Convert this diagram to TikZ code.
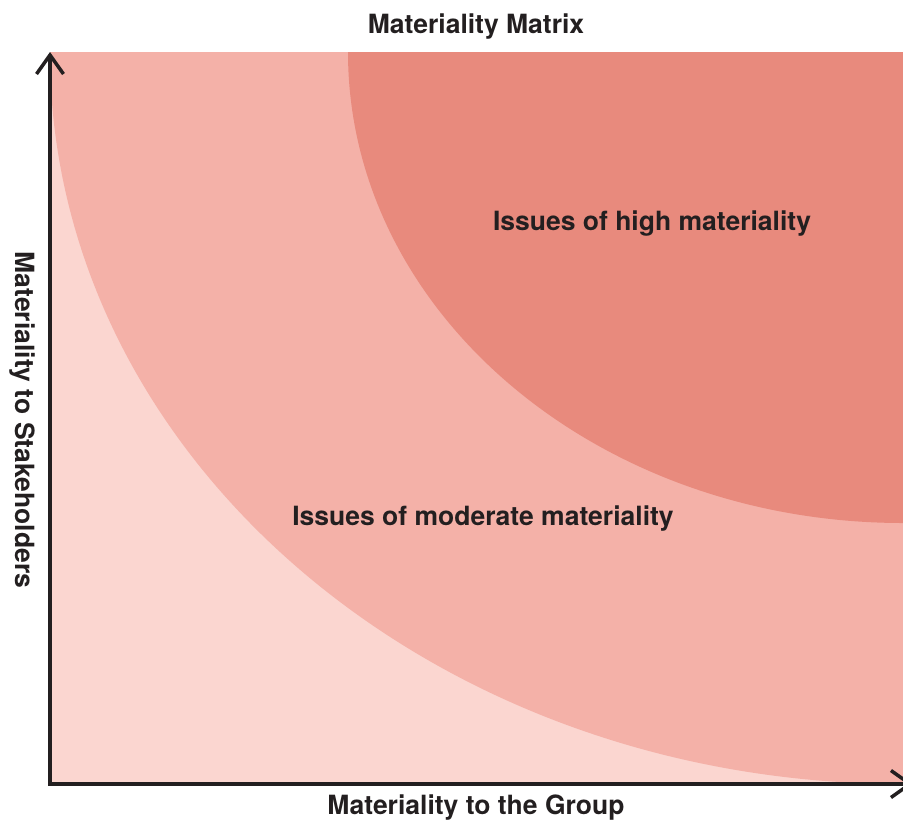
\documentclass[tikz,border=0pt]{standalone}
\usepackage{fontspec}
\setmainfont{TeX Gyre Heros}
\usetikzlibrary{arrows.meta,positioning}

\definecolor{axisgray}{HTML}{231F20}
\definecolor{lowzone}{HTML}{FBD6D0}
\definecolor{midzone}{HTML}{F4B1A8}
\definecolor{highzone}{HTML}{E88A7D}

\tikzset{
  axis/.style={draw=axisgray,line width=4.5pt},
  lbl/.style={text=axisgray,font=\fontsize{26.5}{30}\selectfont\bfseries,inner sep=0pt},
  >={Straight Barb[length=19pt,width=27pt,line width=3.5pt]}
}

\begin{document}
\begin{tikzpicture}[x=1pt,y=-1pt]
\useasboundingbox (0,0) rectangle (903,823);
\coordinate(O) at (50,784);
\coordinate(YTOP) at (50,52);
\coordinate(XEND) at (913,784);
\coordinate(CORNER) at (903,52);
% the three zones, quarter ellipses round the top right corner
\begin{scope}
\clip (YTOP) rectangle (903,784);
\fill[lowzone] (YTOP) rectangle (903,784);
\fill[midzone] (CORNER) ellipse [x radius=853pt,y radius=732pt];
\fill[highzone] (CORNER) ellipse [x radius=555pt,y radius=471pt];
\end{scope}
\draw[axis,<->](YTOP)--(O)--(XEND);
\node[lbl](TITLE) at (476,27){Materiality Matrix};
\node[lbl](XLAB) at (476,808){Materiality to the Group};
\node[lbl,rotate=-90](YLAB) at (22,420){Materiality to Stakeholders};
\node[lbl](HIGH) at (652,224){Issues of high materiality};
\node[lbl](MID) at (483,519){Issues of moderate materiality};
\end{tikzpicture}
\end{document}
